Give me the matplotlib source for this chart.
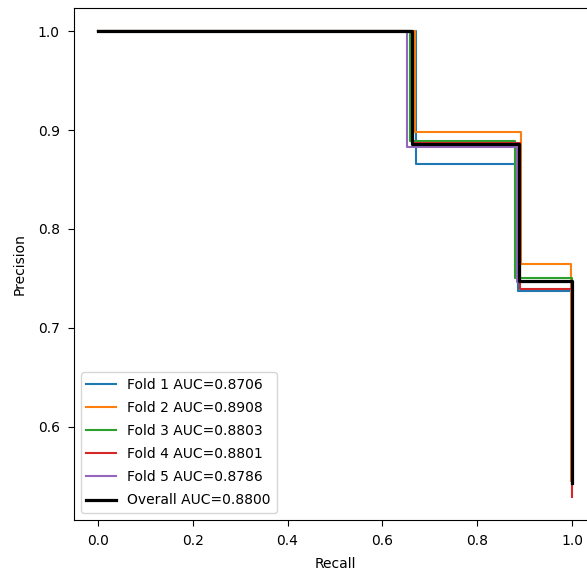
import matplotlib
matplotlib.use('Agg')
import matplotlib.pyplot as plt

# recall / precision points per fold (drawn as post-steps)
fold_labels = ['Fold 1 AUC=0.8706', 'Fold 2 AUC=0.8908', 'Fold 3 AUC=0.8803',
               'Fold 4 AUC=0.8801', 'Fold 5 AUC=0.8786']
fold_recall = [
    [0.0, 0.670, 0.885, 1.0],
    [0.0, 0.668, 0.892, 0.998],
    [0.0, 0.657, 0.880, 1.0],
    [0.0, 0.663, 0.890, 1.0],
    [0.0, 0.651, 0.883, 1.0],
]
fold_precision = [
    [1.0, 0.866, 0.737, 0.545],
    [1.0, 0.898, 0.764, 0.545],
    [1.0, 0.889, 0.750, 0.545],
    [1.0, 0.887, 0.739, 0.529],
    [1.0, 0.883, 0.746, 0.545],
]
overall_label = 'Overall AUC=0.8800'
overall_recall = [0.0, 0.662, 0.887, 1.0]
overall_precision = [1.0, 0.886, 0.747, 0.543]

fig = plt.figure(figsize=(5.87, 5.75), dpi=100)
ax = fig.add_axes([74 / 587, 55 / 575, 522 / 587, 512 / 575])

for lab, r, p in zip(fold_labels, fold_recall, fold_precision):
    ax.step(r, p, where='post', linewidth=1.5, label=lab)
ax.step(overall_recall, overall_precision, where='post', color='black',
        linewidth=2.3, label=overall_label)

ax.tick_params(length=4.2, pad=6)
ax.set_xlabel('Recall', labelpad=6)
ax.set_ylabel('Precision', labelpad=8)
ax.legend(loc='lower left', labelspacing=0.66, handlelength=2.15)

fig.savefig('out.png', dpi=100)
